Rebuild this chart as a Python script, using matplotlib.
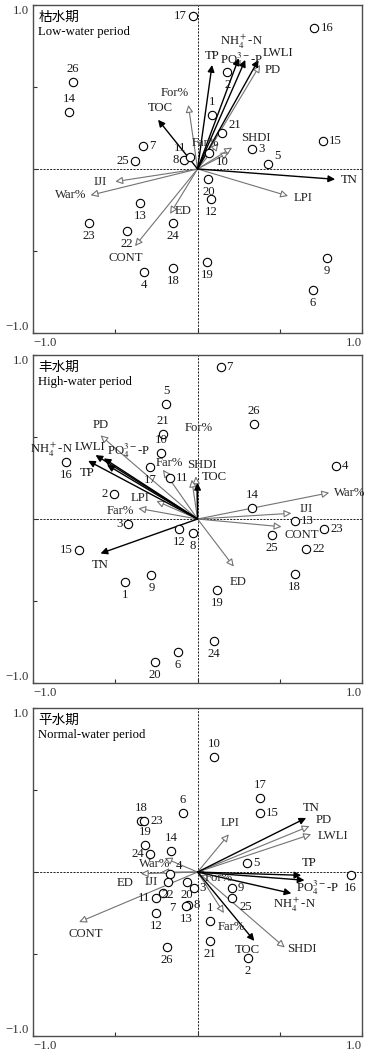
import matplotlib
matplotlib.use("Agg")
import matplotlib.pyplot as plt
import numpy as np

plt.rcParams['font.family'] = ['Liberation Serif', 'DejaVu Serif', 'Noto Sans CJK SC']
plt.rcParams['mathtext.fontset'] = 'stix'

NH4 = r'NH$_4^+$-N'
PO4 = r'PO$_4^{3-}$-P'

# ---------------- data ----------------
site_ids = [str(i) for i in range(1, 27)]

# low-water period
low_x = [0.09, 0.18, 0.33, -0.325, 0.43, 0.70, -0.33, -0.08, 0.785, 0.07, -0.046, 0.08, -0.35,
         -0.78, 0.76, 0.71, -0.03, -0.15, 0.06, 0.066, 0.15, -0.43, -0.66, -0.15, -0.38, -0.76]
low_y = [0.33, 0.59, 0.12, -0.63, 0.03, -0.74, 0.14, 0.055, -0.54, 0.10, 0.07, -0.185, -0.21,
         0.35, 0.17, 0.86, 0.93, -0.605, -0.57, -0.06, 0.22, -0.376, -0.33, -0.33, 0.05, 0.53]
low_resp = ['TP', NH4, PO4, 'LWLI', 'TOC', 'TN']
low_resp_x = [0.088, 0.25, 0.29, 0.37, -0.24, 0.836]
low_resp_y = [0.634, 0.675, 0.665, 0.665, 0.30, -0.063]
low_expl = ['PD', 'For%', 'Far%', 'SHDI', '', 'LPI', 'IJI', 'War%', 'ED', 'CONT']
low_expl_x = [0.38, -0.056, 0.127, 0.21, 0.19, 0.55, -0.50, -0.65, -0.167, -0.38]
low_expl_y = [0.634, 0.39, 0.157, 0.13, 0.10, -0.165, -0.077, -0.16, -0.274, -0.47]

# high-water period
high_x = [-0.44, -0.51, -0.42, 0.84, -0.19, -0.12, 0.14, -0.03, -0.28, -0.22, -0.17, -0.11, 0.59,
          0.33, -0.72, -0.80, -0.29, 0.59, 0.12, -0.26, -0.21, 0.66, 0.77, 0.10, 0.45, 0.34]
high_y = [-0.385, 0.15, -0.03, 0.325, 0.70, -0.81, 0.93, -0.084, -0.34, 0.40, 0.25, -0.06, -0.012,
          0.065, -0.19, 0.35, 0.32, -0.335, -0.43, -0.87, 0.52, -0.185, -0.06, -0.745, -0.10, 0.58]
high_resp = [NH4, 'LWLI', 'TP', PO4, 'TOC', 'TN']
high_resp_x = [-0.62, -0.55, -0.665, -0.57, 0.0, -0.59]
high_resp_y = [0.39, 0.33, 0.355, 0.37, 0.22, -0.21]
high_expl = ['PD', 'For%', 'Far%', 'SHDI', 'LPI', 'Far%', 'War%', 'IJI', 'CONT', 'ED']
high_expl_x = [-0.59, -0.01, -0.21, -0.035, -0.25, -0.36, 0.80, 0.57, 0.51, 0.22]
high_expl_y = [0.51, 0.26, 0.30, 0.24, 0.11, 0.065, 0.16, 0.035, -0.047, -0.29]

# normal-water period
norm_x = [0.077, 0.305, -0.024, -0.166, 0.30, -0.09, -0.21, -0.06, 0.21, 0.10, -0.25, -0.25, -0.07,
          -0.16, 0.38, 0.93, 0.38, -0.345, -0.32, -0.067, 0.075, -0.18, -0.325, -0.29, 0.21, -0.185]
norm_y = [-0.30, -0.525, -0.096, -0.01, 0.057, 0.36, -0.13, -0.20, -0.095, 0.70, -0.16, -0.25, -0.21,
          0.13, 0.36, -0.015, 0.45, 0.31, 0.165, -0.06, -0.42, -0.06, 0.31, 0.11, -0.16, -0.455]
norm_resp = ['TN', 'TP', PO4, NH4, 'TOC']
norm_resp_x = [0.66, 0.63, 0.65, 0.57, 0.345]
norm_resp_y = [0.33, -0.02, -0.05, -0.13, -0.42]
norm_expl = ['PD', 'LWLI', 'LPI', 'SHDI', 'Far%', 'For%', 'CONT', 'ED', 'War%', 'IJI']
norm_expl_x = [0.68, 0.69, 0.19, 0.53, 0.16, 0.06, -0.72, -0.345, -0.20, -0.22]
norm_expl_y = [0.28, 0.23, 0.23, -0.46, -0.25, -0.02, -0.305, -0.01, 0.085, 0.0]

# ---------------- label placement (pixels) ----------------
site_pos = {
    'low': 'a b r b ar b r l b br al b b a r r l b b b ar b b b l a'.split(),
    'high': 'b l l r a b r b b a r b r a l b b b b b a r r b b a'.split(),
    'norm': 'a b r ar r a bb r r a l b b a r b a a a b b b r l br b'.split(),
}
code_off = {'a': (0, 13, 'center'), 'b': (0, -13, 'center'), 'l': (-6, 0, 'right'),
            'r': (6, 0, 'left'), 'ar': (6, 8, 'left'), 'al': (-4, 9, 'right'),
            'br': (7, -9, 'left'), 'bl': (-5, -9, 'right'), 'bb': (6, -15, 'left')}

resp_off = {
    'low': [(0, 9), (3, 16), (-4, 0), (20, 7), (2, 12), (14, -1)],
    'high': [(-44, 5), (-17, 18), (-1, -12), (25, 8), (17, 6), (0, -12)],
    'norm': [(5, 10), (8, 12), (13, -7), (3, -12), (-7, -9)],
}
expl_off = {
    'low': [(13, -5), (-14, 12), (-13, 0), (24, 10), (0, 0), (15, -2), (-15, 0), (-20, 0), (13, 3), (-9, -12)],
    'high': [(0, 10), (3, 48), (6, 7), (10, 15), (-16, 3), (-18, -3), (20, 0), (15, 4), (20, -8), (4, -15)],
    'norm': [(14, 6), (22, -2), (1, 11), (17, -2), (7, -14), (11, -3), (7, -12), (-16, -9), (-10, -6), (-10, -10)],
}

panels = [
    ('low', '枯水期', 'Low-water period', low_x, low_y, low_resp, low_resp_x, low_resp_y,
     low_expl, low_expl_x, low_expl_y, 0.6847),
    ('high', '丰水期', 'High-water period', high_x, high_y, high_resp, high_resp_x, high_resp_y,
     high_expl, high_expl_x, high_expl_y, 0.3532),
    ('norm', '平水期', 'Normal-water period', norm_x, norm_y, norm_resp, norm_resp_x, norm_resp_y,
     norm_expl, norm_expl_x, norm_expl_y, 0.0189),
]

fs = 9.2
gray = '0.45'

fig = plt.figure(figsize=(3.71, 10.56), dpi=100)

for key, cn, en, sx, sy, rn, rx, ry, en_, ex, ey, bottom in panels:
    ax = fig.add_axes([0.089, bottom, 0.887, 0.3106])
    ax.set_xlim(-1, 1)
    ax.set_ylim(-1, 1)
    ax.axhline(0, color='k', ls=(0, (2.5, 1.5)), lw=0.6, zorder=1)
    ax.axvline(0, color='k', ls=(0, (2.5, 1.5)), lw=0.6, zorder=1)

    # explanatory (landscape) variables: gray, open heads
    for name, x, y, off in zip(en_, ex, ey, expl_off[key]):
        ax.annotate('', xy=(x, y), xytext=(0, 0),
                    arrowprops=dict(arrowstyle='-|>', mutation_scale=11, lw=0.8,
                                    fc='white', ec=gray, shrinkA=0, shrinkB=0), zorder=2)
        if name:
            ax.annotate(name, xy=(x, y), xytext=off, textcoords='offset pixels',
                        ha='center', va='center', fontsize=fs, color='0.15', zorder=5)

    # response (water quality) variables: black, filled heads
    for name, x, y, off in zip(rn, rx, ry, resp_off[key]):
        ax.annotate('', xy=(x, y), xytext=(0, 0),
                    arrowprops=dict(arrowstyle='-|>', mutation_scale=10, lw=1.0,
                                    fc='k', ec='k', shrinkA=0, shrinkB=0), zorder=3)
        ax.annotate(name, xy=(x, y), xytext=off, textcoords='offset pixels',
                    ha='center', va='center', fontsize=fs, color='0.1', zorder=5)

    # sites
    ax.plot(sx, sy, 'o', ms=6, mfc='white', mec='k', mew=0.8, ls='none', zorder=4)
    for sid, x, y, c in zip(site_ids, sx, sy, site_pos[key]):
        dx, dy, ha = code_off[c]
        ax.annotate(sid, xy=(x, y), xytext=(dx, dy), textcoords='offset pixels',
                    ha=ha, va='center', fontsize=fs, color='0.1', zorder=5)

    ax.text(0.016, 0.965, cn, transform=ax.transAxes, fontsize=9.8, va='center', ha='left',
            family=['Noto Sans CJK SC'])
    ax.text(0.016, 0.918, en, transform=ax.transAxes, fontsize=fs, va='center', ha='left')

    ax.set_xticks([-1, -0.5, 0, 0.5, 1])
    ax.set_yticks([-1, -0.5, 0, 0.5, 1])
    ax.set_xticklabels(['−1.0', '', '', '', '1.0'], fontsize=fs)
    ax.set_yticklabels(['−1.0', '', '', '', '1.0'], fontsize=fs)
    xl = ax.get_xticklabels()
    xl[0].set_ha('left')
    xl[-1].set_ha('right')
    yl = ax.get_yticklabels()
    yl[0].set_va('bottom')
    yl[-1].set_va('top')
    ax.tick_params(direction='in', length=3, width=0.8, pad=3, colors='0.2')
    for s in ax.spines.values():
        s.set_linewidth(1.0)
        s.set_color('0.3')

fig.savefig('out.png', dpi=100)
